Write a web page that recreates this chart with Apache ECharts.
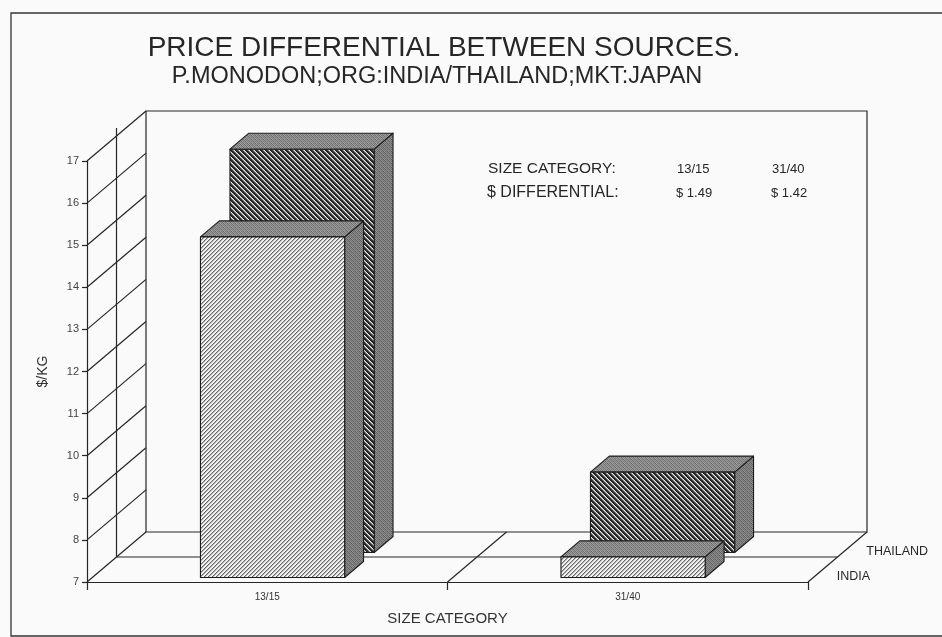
<!DOCTYPE html>
<html>
<head>
<meta charset="utf-8">
<script src="https://cdn.jsdelivr.net/npm/echarts@6/dist/echarts.min.js"></script>
<style>
  html, body { margin: 0; padding: 0; background: #fafafa; }
  #chart { width: 942px; height: 637px; }
</style>
</head>
<body>
<div id="chart"></div>
<script>
// ---- data ----
const categories = ['13/15', '31/40'];
const rows = ['INDIA', 'THAILAND'];
const india = [15.09, 7.49];      // $/KG
const thailand = [16.58, 8.91];   // $/KG
const yTicks = [7, 8, 9, 10, 11, 12, 13, 14, 15, 16, 17];

// ---- look ----
const FONT = '"Liberation Sans", Arial, Helvetica, sans-serif';
const INK = '#262626';
const DEPTH = [59, -50];   // pixel shift from the front plane to the back wall
const BAR_W = 0.4;         // bar width, share of a category band
const BAR_D = 0.32;        // bar depth, share of the full depth
const ROW_PAD = 0.09;      // gap between a row's front edge and its bar
const LINE = { stroke: INK, lineWidth: 1.2, fill: null };

// tiled fills built pixel by pixel
function makePattern(size, shade) {
  const c = document.createElement('canvas');
  c.width = c.height = size;
  const ctx = c.getContext('2d');
  const img = ctx.createImageData(size, size);
  for (let y = 0; y < size; y++) {
    for (let x = 0; x < size; x++) {
      const g = shade(x, y);
      const i = (y * size + x) * 4;
      img.data[i] = img.data[i + 1] = img.data[i + 2] = g;
      img.data[i + 3] = 255;
    }
  }
  ctx.putImageData(img, 0, 0);
  return { image: c, repeat: 'repeat' };
}
const STIP = [
  [112, 158, 128, 150],
  [150, 104, 162, 122],
  [132, 156, 110, 160],
  [162, 120, 148, 106]
];
const lightHatch = makePattern(4, (x, y) => [105, 180, 238, 244][(x + y) % 4]);
const darkHatch = makePattern(5, (x, y) => [38, 38, 62, 150, 232][((x - y) % 5 + 5) % 5]);
const topStipple = makePattern(4, (x, y) => STIP[y][x]);
const sideStipple = makePattern(4, (x, y) => STIP[y][x] - 14);

function seg(x1, y1, x2, y2) {
  return { type: 'line', shape: { x1, y1, x2, y2 }, style: LINE, silent: true };
}

// diagonal grid lines on the left wall, one per tick value
function wallLine(params, api) {
  const y = api.coord([0, api.value(1)])[1];
  const x0 = params.coordSys.x;
  return seg(x0, y, x0 + DEPTH[0], y + DEPTH[1]);
}

// back wall, floor, row and category dividers, row names
function shell(params, api) {
  const cs = params.coordSys;
  const lo = api.coord([0, yTicks[0]])[1];
  const hi = api.coord([0, yTicks[yTicks.length - 1]])[1];
  const x0 = cs.x, x1 = cs.x + cs.width;
  const bx = DEPTH[0], by = DEPTH[1];
  const band = api.size([1, 0])[0];
  const kids = [
    { type: 'polyline', silent: true, style: LINE,
      shape: { points: [[x0 + bx, lo + by], [x0 + bx, hi + by], [x1 + bx, hi + by], [x1 + bx, lo + by], [x0 + bx, lo + by]] } },
    seg(x1, lo, x1 + bx, lo + by)
  ];
  for (let r = 1; r < rows.length; r++) {
    const f = r / rows.length;
    kids.push(seg(x0 + bx * f, lo + by * f, x1 + bx * f, lo + by * f));
    kids.push(seg(x0 + bx * f, hi + by * f - 8, x0 + bx * f, lo + by * f));
  }
  for (let k = 1; k < categories.length; k++) {
    const x = x0 + band * k;
    kids.push(seg(x, lo, x + bx, lo + by));
  }
  rows.forEach((name, r) => {
    const f = (r + 0.5) / rows.length;
    kids.push({ type: 'text', silent: true, x: x1 + bx * f + 14, y: lo + by * f + 7,
      style: { text: name, fontFamily: FONT, fontSize: 12.5, fill: INK, verticalAlign: 'middle' } });
  });
  return { type: 'group', children: kids };
}

// one solid box per value: side, top and front faces
function boxRenderer(rowIndex, frontFill) {
  return function (params, api) {
    const cat = api.value(0), val = api.value(1);
    const base = api.coord([cat, yTicks[0]]);
    const top = api.coord([cat, val]);
    const half = api.size([1, 0])[0] * BAR_W / 2;
    const d0 = rowIndex / rows.length + ROW_PAD;
    const ox = DEPTH[0] * d0, oy = DEPTH[1] * d0;
    const dx = DEPTH[0] * BAR_D, dy = DEPTH[1] * BAR_D;
    const xl = base[0] - half + ox, xr = base[0] + half + ox;
    const yt = top[1] + oy, yb = base[1] + oy;
    const edge = { stroke: '#1c1c1c', lineWidth: 1.1, lineJoin: 'round' };
    return {
      type: 'group',
      children: [
        { type: 'polygon', shape: { points: [[xr, yt], [xr + dx, yt + dy], [xr + dx, yb + dy], [xr, yb]] },
          style: Object.assign({ fill: sideStipple }, edge) },
        { type: 'polygon', shape: { points: [[xl, yt], [xr, yt], [xr + dx, yt + dy], [xl + dx, yt + dy]] },
          style: Object.assign({ fill: topStipple }, edge) },
        { type: 'rect', shape: { x: xl, y: yt, width: xr - xl, height: yb - yt },
          style: Object.assign({ fill: frontFill }, edge) }
      ]
    };
  };
}

const txt = (text, x, y, size, align) => ({
  type: 'text', x, y, silent: true,
  style: { text, fontFamily: FONT, fontSize: size, fill: INK, align: align || 'left', verticalAlign: 'middle' }
});

const diffs = categories.map((c, i) => '$ ' + (thailand[i] - india[i]).toFixed(2));

const chart = echarts.init(document.getElementById('chart'), null, { renderer: 'canvas' });
chart.setOption({
  backgroundColor: '#fafafa',
  animation: false,
  textStyle: { fontFamily: FONT },
  grid: { left: 87, right: 134, top: 161, bottom: 55 },
  xAxis: {
    type: 'category',
    data: categories,
    axisLine: { lineStyle: { color: INK, width: 1.2 } },
    axisTick: { show: true, length: 8, alignWithLabel: false, lineStyle: { color: INK, width: 1.2 } },
    axisLabel: { fontSize: 10, color: '#333', margin: 10 },
    splitLine: { show: false },
    name: 'SIZE CATEGORY',
    nameLocation: 'middle',
    nameGap: 29,
    nameTextStyle: { fontSize: 15, color: '#333' }
  },
  yAxis: {
    type: 'value',
    min: 7, max: 17, interval: 1,
    axisLine: { show: true, lineStyle: { color: INK, width: 1.2 } },
    axisTick: { show: true, length: 5, lineStyle: { color: INK, width: 1.2 } },
    axisLabel: { fontSize: 11, color: '#444', margin: 8 },
    splitLine: { show: false },
    name: '$/KG',
    nameLocation: 'middle',
    nameRotate: 90,
    nameGap: 37,
    nameTextStyle: { fontSize: 14, color: '#333' }
  },
  graphic: [
    { type: 'rect', silent: true, shape: { x: 11, y: 13, width: 960, height: 623 },
      style: { fill: null, stroke: '#333', lineWidth: 1.3 } },
    txt('PRICE DIFFERENTIAL BETWEEN SOURCES.', 444, 48, 28, 'center'),
    txt('P.MONODON;ORG:INDIA/THAILAND;MKT:JAPAN', 437, 77, 23.5, 'center'),
    txt('SIZE CATEGORY:', 488, 169, 15.5),
    txt(categories[0], 677, 169, 13),
    txt(categories[1], 772, 169, 13),
    txt('$ DIFFERENTIAL:', 487, 193, 16),
    txt(diffs[0], 676, 193, 13),
    txt(diffs[1], 771, 193, 13)
  ],
  series: [
    { type: 'custom', name: 'wall', silent: true, renderItem: wallLine,
      data: yTicks.map(v => [0, v]), encode: { x: 0, y: 1 }, z: 1 },
    { type: 'custom', name: 'shell', silent: true, renderItem: shell,
      data: [[0, yTicks[0]]], encode: { x: 0, y: 1 }, z: 1 },
    { type: 'custom', name: rows[1], renderItem: boxRenderer(1, darkHatch),
      data: thailand.map((v, i) => [i, v]), encode: { x: 0, y: 1 }, z: 2 },
    { type: 'custom', name: rows[0], renderItem: boxRenderer(0, lightHatch),
      data: india.map((v, i) => [i, v]), encode: { x: 0, y: 1 }, z: 3 }
  ]
});
</script>
</body>
</html>
